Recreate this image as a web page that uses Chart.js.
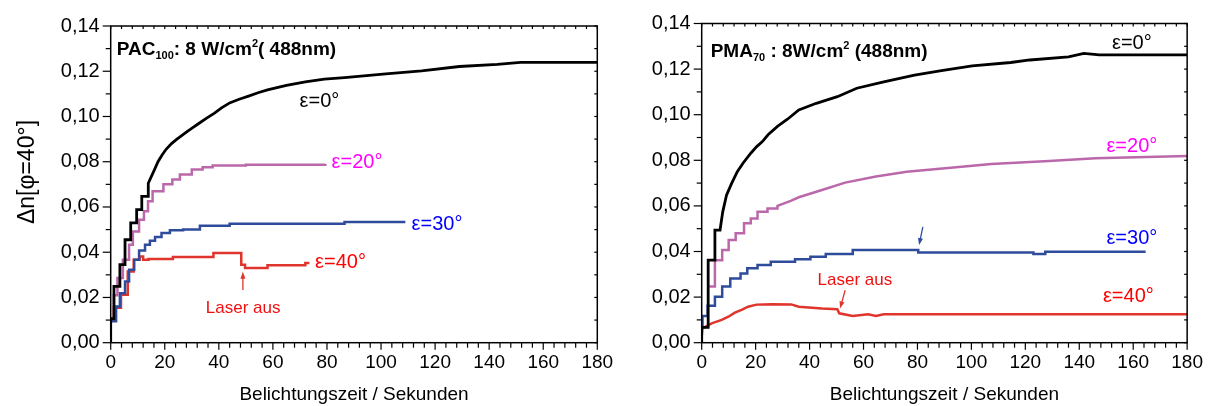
<!DOCTYPE html>
<html lang="de">
<head>
<meta charset="UTF-8">
<title>Δn – Belichtungszeit</title>
<script src="https://cdn.jsdelivr.net/npm/chart.js@4"></script>
<style>
  body { margin: 0; background: #fff; }
  #wrap { position: relative; width: 1212px; height: 406px; overflow: hidden; }
  #c1 { position: absolute; left: 0; top: 0; }
  #c2 { position: absolute; left: 606px; top: 0; }
</style>
</head>
<body>
<div id="wrap">
  <canvas id="c1" width="640" height="406"></canvas>
  <canvas id="c2" width="606" height="406"></canvas>
</div>
<script>
// x-axis ticks and y-axis ticks
const xTicks = [0, 20, 40, 60, 80, 100, 120, 140, 160, 180];
const yTicks = [0, 0.02, 0.04, 0.06, 0.08, 0.10, 0.12, 0.14];

// PAC100 (left panel), time in s / delta n
const pac0T = [0, 0, 1.2, 1.2, 3.4, 3.4, 5.3, 5.3, 7.4, 7.4, 9.6, 9.6, 11.5, 11.5, 13.9, 13.9, 16.2, 17.5, 19, 20.5, 22.5, 24.5, 26.5, 28.5, 30.5, 32.7, 35.5, 38.4, 41, 44, 47.5, 51, 54.5, 58, 65, 72, 79, 86.5, 100.7, 115, 129, 143, 151.6, 180];
const pac0V = [0, 0.0105, 0.0105, 0.0249, 0.0249, 0.0345, 0.0345, 0.0455, 0.0455, 0.053, 0.053, 0.0588, 0.0588, 0.0647, 0.0647, 0.0705, 0.0765, 0.080, 0.083, 0.0855, 0.088, 0.090, 0.0918, 0.0935, 0.0952, 0.097, 0.0993, 0.1015, 0.1038, 0.106, 0.1076, 0.109, 0.1105, 0.1118, 0.1138, 0.1153, 0.1165, 0.1172, 0.1187, 0.1202, 0.1221, 0.123, 0.1239, 0.1239];
// plateau readings (value starts at given time)
const pac20T = [0, 0, 1.2, 2.5, 4.5, 6.8, 8.2, 10.5, 12.3, 13.8, 15.5, 19.5, 22.8, 25.6, 30, 34, 37.7, 50, 79.4];
const pac20V = [0, 0.0105, 0.021, 0.0286, 0.0367, 0.0433, 0.0492, 0.0544, 0.0581, 0.0625, 0.067, 0.070, 0.0721, 0.0744, 0.0766, 0.0776, 0.0783, 0.0787, 0.079];
const pac30T = [0, 0, 2.0, 3.4, 5.3, 6.8, 8.7, 10.5, 12.7, 14.5, 16.4, 18.8, 21.9, 26.8, 33, 44, 86.5, 109];
const pac30V = [0, 0.0095, 0.016, 0.0219, 0.027, 0.0322, 0.0367, 0.0408, 0.0433, 0.0451, 0.0467, 0.0485, 0.0497, 0.050, 0.0517, 0.0526, 0.0534, 0.0534];
const pac40T = [0, 0, 1.2, 3.8, 6.3, 8.5, 10.7, 12, 14, 23, 38, 48.3, 49.7, 58, 72, 73.5];
const pac40V = [0, 0.0108, 0.0154, 0.0212, 0.0315, 0.0367, 0.0381, 0.0367, 0.037, 0.0379, 0.0396, 0.0345, 0.033, 0.0342, 0.0352, 0.0352];

// PMA70 (right panel)
const pma0T = [0, 0, 2.4, 2.4, 4.9, 4.9, 6.8, 7.8, 9.2, 11.1, 13.2, 15.3, 18.2, 20.3, 22.5, 24.6, 28.2, 31.8, 36, 42.5, 50.3, 57.5, 67.5, 78.9, 88.9, 100.3, 114.6, 121.7, 136, 141.7, 147.4, 180];
const pma0V = [0, 0.0067, 0.0067, 0.0362, 0.0362, 0.0494, 0.0494, 0.0574, 0.0647, 0.0699, 0.075, 0.0787, 0.0831, 0.0859, 0.0882, 0.0912, 0.095, 0.098, 0.1021, 0.105, 0.1079, 0.1116, 0.1144, 0.1174, 0.1193, 0.1214, 0.1229, 0.124, 0.1254, 0.1269, 0.1262, 0.1262];
const pma20T = [2.8, 4.9, 4.9, 7.6, 7.6, 10, 10, 12.6, 12.6, 15.7, 15.7, 18.2, 18.2, 20.7, 20.7, 24.4, 24.4, 28.1, 28.1, 33, 36, 44.6, 53.2, 64.6, 76, 90.3, 107.4, 128.8, 146, 180];
const pma20V = [0.0246, 0.0246, 0.0362, 0.0362, 0.0407, 0.0407, 0.045, 0.045, 0.048, 0.048, 0.0524, 0.0524, 0.0545, 0.0545, 0.0574, 0.0574, 0.0589, 0.0589, 0.060, 0.0622, 0.0638, 0.067, 0.0702, 0.0729, 0.075, 0.0765, 0.0784, 0.0797, 0.0809, 0.0819];
// plateau readings (value starts at given time)
const pma30T = [0, 0.3, 2.2, 4.9, 7.6, 10.6, 14.4, 16.9, 20.7, 25.6, 34.6, 40.3, 46, 56, 80.3, 123, 127.4, 164.6];
const pma30V = [0.0069, 0.0117, 0.0162, 0.0202, 0.0246, 0.0282, 0.0304, 0.0327, 0.0341, 0.0355, 0.0366, 0.0377, 0.0389, 0.0407, 0.0396, 0.0389, 0.0399, 0.0399];
const pma40T = [0, 0.3, 3.7, 7.4, 9.9, 12.3, 14.8, 17.2, 20.3, 26, 33.2, 36, 44.6, 50.3, 51, 56, 61.7, 64.6, 67.5, 180];
const pma40V = [0.0027, 0.0063, 0.0085, 0.01, 0.0114, 0.0132, 0.0144, 0.0158, 0.0167, 0.0169, 0.0168, 0.0158, 0.015, 0.0147, 0.0129, 0.0117, 0.0125, 0.0117, 0.0125, 0.0125];

const FONT = '"Liberation Sans", Arial, Helvetica, sans-serif';
const BLACK = '#000000', PINK = '#bb68ab', BLUE = '#2f4c9c', RED = '#e0352c';

// draws frame, minor ticks, inset title, curve labels and arrows
const decoPlugin = {
  id: 'deco',
  afterDraw(chart, args, o) {
    const {ctx, chartArea: a, scales: {x, y}} = chart;
    ctx.save();
    ctx.strokeStyle = '#000';
    ctx.lineWidth = 1.5;
    ctx.strokeRect(a.left, a.top, a.right - a.left, a.bottom - a.top);
    ctx.lineWidth = 1.2;
    const seg = (x0, y0, x1, y1) => { ctx.beginPath(); ctx.moveTo(x0, y0); ctx.lineTo(x1, y1); ctx.stroke(); };
    for (let k = 0; k <= 14; k++) {
      const py = y.getPixelForValue(k / 100);
      const len = k % 2 ? 5 : 8;
      seg(a.left - len, py, a.left, py);
      seg(a.right - 3, py, a.right, py);
    }
    for (let t = 0; t <= 180; t += 4) {
      const px = x.getPixelForValue(t);
      const len = t % 20 ? 5 : 7;
      seg(px, a.bottom, px, a.bottom + len);
      seg(px, a.top, px, a.top + 3);
    }

    // inset title with sub/superscripts
    let tx = a.left + o.title.dx;
    const ty = a.top + o.title.dy;
    ctx.fillStyle = '#000';
    ctx.textAlign = 'left';
    ctx.textBaseline = 'alphabetic';
    o.title.parts.forEach(p => {
      ctx.font = 'bold ' + p.size + 'px ' + FONT;
      ctx.fillText(p.text, tx, ty + p.shift);
      tx += ctx.measureText(p.text).width;
    });

    ctx.textAlign = 'center';
    ctx.textBaseline = 'middle';
    o.labels.forEach(l => {
      ctx.font = l.size + 'px ' + FONT;
      ctx.fillStyle = l.color;
      ctx.fillText(l.text, x.getPixelForValue(l.t), y.getPixelForValue(l.v));
    });

    o.arrows.forEach(ar => {
      const x0 = x.getPixelForValue(ar.t0), y0 = y.getPixelForValue(ar.v0);
      const x1 = x.getPixelForValue(ar.t1), y1 = y.getPixelForValue(ar.v1);
      const ang = Math.atan2(y1 - y0, x1 - x0);
      ctx.strokeStyle = ar.color;
      ctx.fillStyle = ar.color;
      ctx.lineWidth = 1.3;
      seg(x0, y0, x1 - 4 * Math.cos(ang), y1 - 4 * Math.sin(ang));
      ctx.beginPath();
      ctx.moveTo(x1, y1);
      ctx.lineTo(x1 - 7 * Math.cos(ang) + 2.5 * Math.sin(ang), y1 - 7 * Math.sin(ang) - 2.5 * Math.cos(ang));
      ctx.lineTo(x1 - 7 * Math.cos(ang) - 2.5 * Math.sin(ang), y1 - 7 * Math.sin(ang) + 2.5 * Math.cos(ang));
      ctx.closePath();
      ctx.fill();
    });

    if (o.yTitle) {
      ctx.translate(o.yTitle.x, o.yTitle.y);
      ctx.rotate(-Math.PI / 2);
      ctx.font = o.yTitle.size + 'px ' + FONT;
      ctx.fillStyle = '#000';
      ctx.fillText(o.yTitle.text, 0, 0);
    }
    ctx.restore();
  }
};

function series(t, v, color, width, stepped) {
  return {
    data: t.map((tt, i) => ({x: tt, y: v[i]})),
    borderColor: color,
    borderWidth: width,
    pointRadius: 0,
    stepped: stepped,
    fill: false
  };
}

function makeChart(id, sets, deco, geom) {
  return new Chart(document.getElementById(id), {
    type: 'line',
    data: {datasets: sets},
    options: {
      responsive: false,
      animation: false,
      layout: {padding: {top: geom.top, right: geom.right, left: 0, bottom: 0}},
      plugins: {legend: {display: false}, tooltip: {enabled: false}, deco: deco},
      scales: {
        x: {
          type: 'linear', min: 0, max: 180,
          grid: {display: false, drawTicks: false},
          border: {display: false},
          afterBuildTicks: s => { s.ticks = xTicks.map(v => ({value: v})); },
          ticks: {maxRotation: 0, autoSkip: false, padding: 9, color: '#000', font: {family: FONT, size: 19}},
          title: {display: true, text: 'Belichtungszeit / Sekunden', color: '#000', font: {family: FONT, size: 19}, padding: {top: 0, bottom: 0}},
          afterFit: s => { s.height = geom.xh; }
        },
        y: {
          min: 0, max: 0.14,
          grid: {display: false, drawTicks: false},
          border: {display: false},
          afterBuildTicks: s => { s.ticks = yTicks.map(v => ({value: v})); },
          ticks: {padding: 11, color: '#000', font: {family: FONT, size: 20},
                  callback: v => v.toFixed(2).replace('.', ',')},
          afterFit: s => { s.width = geom.yw; }
        }
      }
    },
    plugins: [decoPlugin]
  });
}

makeChart('c1', [
  series(pac0T, pac0V, BLACK, 2.8, false),
  series(pac20T, pac20V, PINK, 2.5, 'before'),
  series(pac30T, pac30V, BLUE, 2.5, 'before'),
  series(pac40T, pac40V, RED, 2.5, 'before')
], {
  title: {dx: 6, dy: 29, parts: [
    {text: 'PAC', size: 19, shift: 0},
    {text: '100', size: 11, shift: 4},
    {text: ': 8 W/cm', size: 19, shift: 0},
    {text: '2', size: 11, shift: -8},
    {text: '( 488nm)', size: 19, shift: 0}
  ]},
  labels: [
    {text: 'ε=0°', t: 77.2, v: 0.1067, color: '#000000', size: 20},
    {text: 'ε=20°', t: 91.1, v: 0.0797, color: '#ff00ff', size: 20},
    {text: 'ε=30°', t: 120.7, v: 0.0522, color: '#0000ff', size: 20},
    {text: 'ε=40°', t: 85, v: 0.0353, color: '#ff0000', size: 20},
    {text: 'Laser aus', t: 49, v: 0.0154, color: '#f01010', size: 17}
  ],
  arrows: [
    {t0: 48.9, v0: 0.0233, t1: 48.9, v1: 0.0314, color: '#e0352c'}
  ],
  yTitle: {text: 'Δn[φ=40°]', x: 28, y: 172, size: 23}
}, {top: 26, right: 42.7, xh: 63.3, yw: 110.7});

makeChart('c2', [
  series(pma0T, pma0V, BLACK, 2.8, false),
  series(pma20T, pma20V, PINK, 2.5, false),
  series(pma30T, pma30V, BLUE, 2.5, 'before'),
  series(pma40T, pma40V, RED, 2.5, false)
], {
  title: {dx: 9, dy: 33, parts: [
    {text: 'PMA', size: 19, shift: 0},
    {text: '70', size: 11, shift: 4},
    {text: ' : 8W/cm', size: 19, shift: 0},
    {text: '2', size: 11, shift: -8},
    {text: ' (488nm)', size: 19, shift: 0}
  ]},
  labels: [
    {text: 'ε=0°', t: 159.5, v: 0.1313, color: '#000000', size: 20},
    {text: 'ε=20°', t: 159.5, v: 0.0859, color: '#ff00ff', size: 20},
    {text: 'ε=30°', t: 159.5, v: 0.0458, color: '#0000ff', size: 20},
    {text: 'ε=40°', t: 158.2, v: 0.0202, color: '#ff0000', size: 20},
    {text: 'Laser aus', t: 56.8, v: 0.0275, color: '#f01010', size: 17}
  ],
  arrows: [
    {t0: 53.2, v0: 0.0230, t1: 51.3, v1: 0.0150, color: '#e0352c'},
    {t0: 82, v0: 0.0508, t1: 80.6, v1: 0.0428, color: '#2f4c9c'}
  ],
  yTitle: null
}, {top: 23.5, right: 23, xh: 63.3, yw: 95.7});
</script>
</body>
</html>
